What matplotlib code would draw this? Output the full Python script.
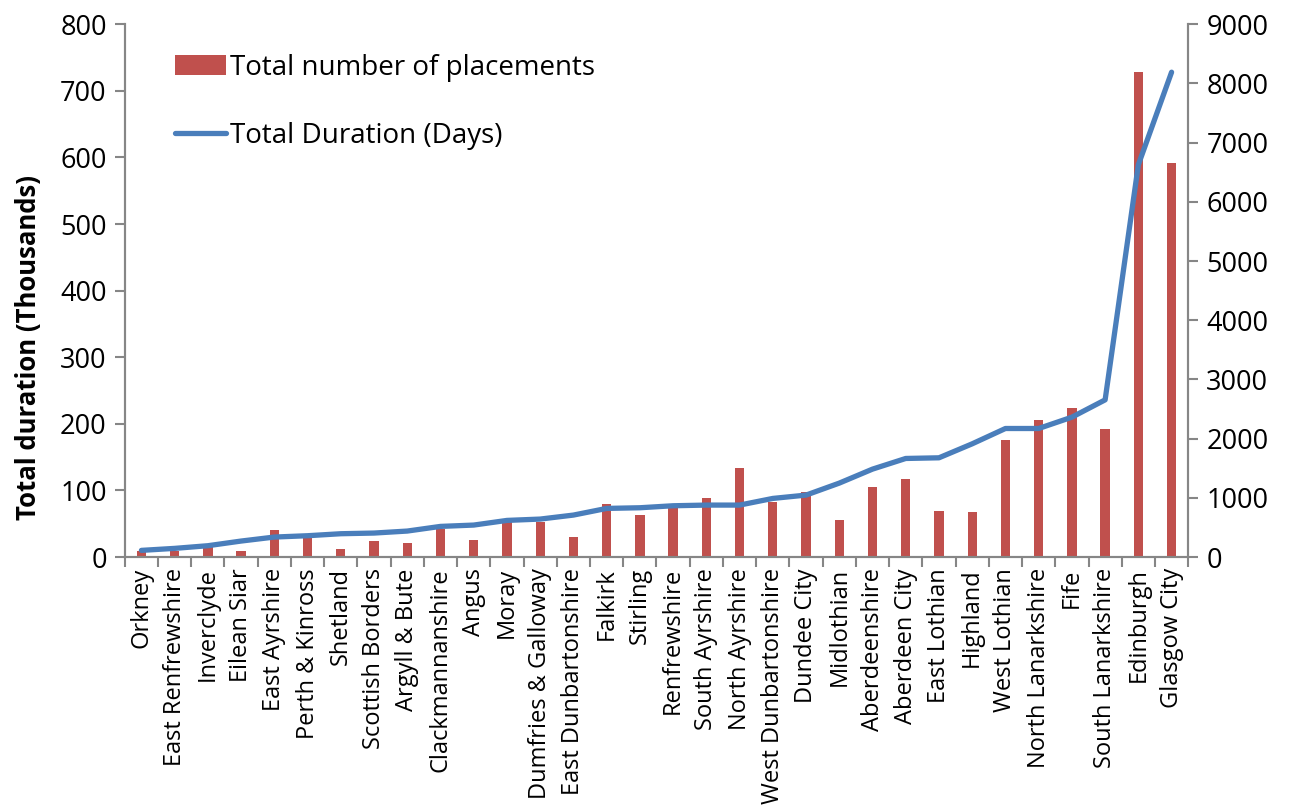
import matplotlib.pyplot as plt
import numpy as np

plt.rcParams['font.family'] = ['Open Sans', 'DejaVu Sans']

# council areas, sorted by total duration
areas = ["Orkney", "East Renfrewshire", "Inverclyde", "Eilean Siar", "East Ayrshire",
         "Perth & Kinross", "Shetland", "Scottish Borders", "Argyll & Bute",
         "Clackmannanshire", "Angus", "Moray", "Dumfries & Galloway",
         "East Dunbartonshire", "Falkirk", "Stirling", "Renfrewshire", "South Ayrshire",
         "North Ayrshire", "West Dunbartonshire", "Dundee City", "Midlothian",
         "Aberdeenshire", "Aberdeen City", "East Lothian", "Highland", "West Lothian",
         "North Lanarkshire", "Fife", "South Lanarkshire", "Edinburgh", "Glasgow City"]

# total duration, thousands of days (left axis)
duration_k = [10, 13, 17, 24, 30, 32, 35, 36, 39, 46, 48, 55, 57, 63, 73, 74, 77, 78,
              78, 88, 93, 111, 132, 148, 149, 170, 193, 193, 210, 236, 589, 728]

# total number of placements (right axis)
placements = [106, 100, 170, 96, 461, 330, 135, 265, 231, 468, 287, 586, 597, 343, 895,
              709, 860, 991, 1508, 924, 1092, 625, 1187, 1317, 782, 754, 1970, 2313,
              2521, 2167, 8190, 6648]

red = "#C0504D"
blue = "#4A7EBB"
grey = "#868686"

fig = plt.figure(figsize=(13, 8.08), dpi=100)
ax = fig.add_axes([0.096, 0.3106, 0.818, 0.6594])
ax2 = ax.twinx()

x = np.arange(len(areas))
ax2.bar(x, placements, width=0.28, color=red, label="Total number of placements")
ax.plot(x, duration_k, color=blue, lw=3.8, solid_capstyle="round",
        label="Total Duration (Days)")

# line above bars
ax.set_zorder(ax2.get_zorder() + 1)
ax.patch.set_visible(False)

ax.set_xlim(-0.5, len(areas) - 0.5)
ax.set_ylim(0, 800)
ax.set_yticks(np.arange(0, 801, 100))
ax2.set_ylim(0, 9000)
ax2.set_yticks(np.arange(0, 9001, 1000))

ax.set_xticks(x)
ax.set_xticklabels(areas, rotation=90, fontsize=17)
ax.set_xticks(np.arange(-0.5, len(areas), 1), minor=True)
ax.tick_params(axis="x", which="major", length=0, pad=8)
ax.tick_params(axis="x", which="minor", length=7, width=1.5, color=grey)

ax.tick_params(axis="y", labelsize=19.5, length=7, width=1.5, color=grey, pad=6)
ax2.tick_params(axis="y", labelsize=19.5, length=7, width=1.5, color=grey, pad=6)

for a in (ax, ax2):
    a.spines["top"].set_visible(False)
    for s in ("left", "right", "bottom"):
        a.spines[s].set_color(grey)
        a.spines[s].set_linewidth(1.5)

ax.set_ylabel("Total duration (Thousands)", fontsize=18.5, fontweight="bold")
ax.yaxis.set_label_coords(-0.078, 0.394)

h1, l1 = ax2.get_legend_handles_labels()
h2, l2 = ax.get_legend_handles_labels()
ax.legend(h1 + h2, l1 + l2, loc="upper left", bbox_to_anchor=(0.047, 0.945),
          borderaxespad=0, borderpad=0, frameon=False, fontsize=20,
          labelspacing=1.45, handlelength=1.85, handletextpad=0.15)

fig.savefig("out.png", dpi=100)
